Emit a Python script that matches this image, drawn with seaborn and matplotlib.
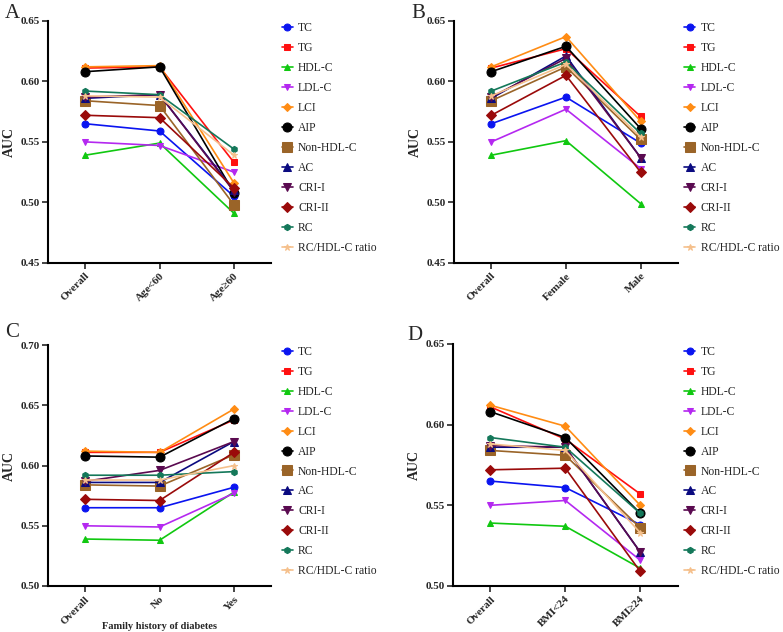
import pandas as pd
import matplotlib
matplotlib.use("Agg")
import matplotlib.pyplot as plt
import seaborn as sns

sns.set_style("ticks")
plt.rcParams["font.family"] = ["Liberation Serif", "DejaVu Serif"]

# Lipid indices (legend order)
indices = ["TC", "TG", "HDL-C", "LDL-C", "LCI", "AIP", "Non-HDL-C",
           "AC", "CRI-I", "CRI-II", "RC", "RC/HDL-C ratio"]

colors = ["#0a14f0", "#ff1010", "#10c810", "#b428f0", "#ff8c14", "#000000",
          "#9a6428", "#0a0a80", "#5a0a50", "#9a0a0a", "#14785a", "#f5c08c"]
markers = ["o", "s", "^", "v", "D", "o", "s", "^", "v", "D", "h", "*"]
msizes = [5, 5, 5, 5, 4, 6.5, 7, 5.5, 5.5, 5, 4.5, 5]

# AUC values per subgroup, one value per index
overall = [0.565, 0.611, 0.539, 0.550, 0.612, 0.608, 0.584, 0.586, 0.587, 0.572, 0.592, 0.588]

age_lt60 = [0.559, 0.612, 0.549, 0.547, 0.613, 0.612, 0.580, 0.589, 0.589, 0.570, 0.589, 0.587]
age_ge60 = [0.505, 0.533, 0.491, 0.525, 0.516, 0.508, 0.498, 0.510, 0.509, 0.512, 0.544, 0.539]

female = [0.587, 0.627, 0.551, 0.577, 0.637, 0.629, 0.612, 0.621, 0.619, 0.605, 0.616, 0.614]
male = [0.549, 0.571, 0.499, 0.528, 0.567, 0.561, 0.552, 0.537, 0.537, 0.525, 0.557, 0.554]

fh_no = [0.565, 0.611, 0.538, 0.549, 0.611, 0.607, 0.583, 0.586, 0.596, 0.571, 0.592, 0.588]
fh_yes = [0.582, 0.638, 0.578, 0.577, 0.647, 0.639, 0.609, 0.620, 0.620, 0.611, 0.595, 0.600]

bmi_lt24 = [0.561, 0.591, 0.537, 0.553, 0.599, 0.592, 0.581, 0.586, 0.586, 0.573, 0.586, 0.584]
bmi_ge24 = [0.538, 0.557, 0.511, 0.516, 0.550, 0.545, 0.536, 0.521, 0.521, 0.509, 0.545, 0.533]

panels = [
    ("A", ["Overall", "Age<60", "Age≥60"], [overall, age_lt60, age_ge60], (0.45, 0.65), ""),
    ("B", ["Overall", "Female", "Male"], [overall, female, male], (0.45, 0.65), ""),
    ("C", ["Overall", "No", "Yes"], [overall, fh_no, fh_yes], (0.50, 0.70), "Family history of diabetes"),
    ("D", ["Overall", "BMI<24", "BMI≥24"], [overall, bmi_lt24, bmi_ge24], (0.50, 0.65), ""),
]

# axes rectangles in figure fraction
rects = [
    [0.0613, 0.584, 0.285, 0.383],
    [0.5798, 0.584, 0.286, 0.383],
    [0.0613, 0.0728, 0.285, 0.381],
    [0.5785, 0.0728, 0.287, 0.383],
]
letter_pos = [(0.006, 0.994), (0.526, 0.994), (0.006, 0.489), (0.520, 0.484)]
legend_pos = [(0.354, 0.972), (0.868, 0.972), (0.354, 0.460), (0.868, 0.460)]

fig = plt.figure(figsize=(7.83, 6.32), dpi=100)

for k, (letter, groups, vals, ylim, xlab) in enumerate(panels):
    rows = []
    for g, v in zip(groups, vals):
        for name, a in zip(indices, v):
            rows.append({"Group": g, "Index": name, "AUC": a})
    df = pd.DataFrame(rows)

    ax = fig.add_axes(rects[k])
    for i, name in enumerate(indices):
        sub = df[df["Index"] == name]
        sns.lineplot(data=sub, x="Group", y="AUC", ax=ax, color=colors[i],
                     marker=markers[i], markersize=msizes[i],
                     markeredgecolor=colors[i], linewidth=1.2,
                     label=name, sort=False)

    ax.set_xlim(-0.5, 2.5)
    ax.set_ylim(*ylim)
    ax.set_yticks([round(ylim[0] + 0.05 * j, 2) for j in range(int(round((ylim[1] - ylim[0]) / 0.05)) + 1)])
    ax.yaxis.set_major_formatter(matplotlib.ticker.FormatStrFormatter("%.2f"))
    ax.set_xticks(range(3))
    ax.set_xticklabels(groups, rotation=45, ha="right", rotation_mode="anchor",
                       fontsize=8, fontweight="bold")
    for t in ax.get_yticklabels():
        t.set_fontsize(8)
        t.set_fontweight("bold")
    ax.set_ylabel("AUC", fontsize=10, fontweight="bold", labelpad=3)
    ax.set_xlabel(xlab, fontsize=7.5, fontweight="bold", va="center")
    ax.xaxis.set_label_coords(0.5, -0.168)
    ax.tick_params(axis="both", direction="out", length=4, width=1.2, pad=2)
    for s in ["left", "bottom"]:
        ax.spines[s].set_linewidth(1.5)
        ax.spines[s].set_color("black")
    sns.despine(ax=ax)

    handles, labels = ax.get_legend_handles_labels()
    ax.get_legend().remove()
    fig.legend(handles, labels, loc="upper left", bbox_to_anchor=legend_pos[k],
               frameon=False, fontsize=8.4, handlelength=0.95, handletextpad=0.45,
               labelspacing=0.68, borderaxespad=0)

    fig.text(letter_pos[k][0], letter_pos[k][1], letter, fontsize=15, va="top")

fig.savefig("out.png", dpi=100)
